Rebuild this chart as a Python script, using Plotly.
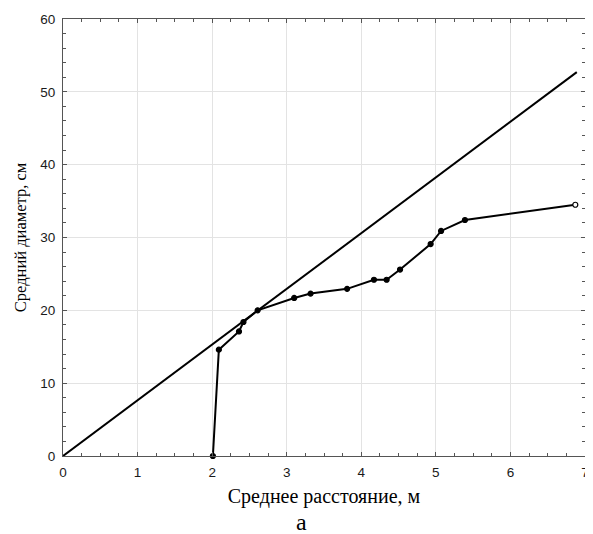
import plotly.graph_objects as go

# Data
dist_m = [2.01, 2.09, 2.36, 2.42, 2.61, 3.10, 3.32, 3.81, 4.17, 4.34, 4.52, 4.93, 5.07, 5.39, 6.87]
diam_cm = [0.0, 14.6, 17.1, 18.4, 20.0, 21.7, 22.3, 22.95, 24.2, 24.2, 25.6, 29.1, 30.9, 32.4, 34.5]
line_x = [0.0, 6.89]
line_y = [0.0, 52.7]

x_ticks = [0, 1, 2, 3, 4, 5, 6, 7]
y_ticks = [0, 10, 20, 30, 40, 50, 60]

fig = go.Figure()
fig.add_trace(go.Scatter(x=line_x, y=line_y, mode="lines",
                         line=dict(color="black", width=2), showlegend=False))
marker_fill = ["black"] * (len(dist_m) - 1) + ["white"]
fig.add_trace(go.Scatter(x=dist_m, y=diam_cm, mode="lines+markers",
                         line=dict(color="black", width=2),
                         marker=dict(size=5, color=marker_fill,
                                     line=dict(color="black", width=1.2)),
                         showlegend=False, cliponaxis=False))

axis_common = dict(
    showline=True, linecolor="#555555", linewidth=1, mirror="ticks",
    ticks="inside", ticklen=4, tickcolor="#555555",
    showgrid=True, gridcolor="#e3e3e3", gridwidth=1, zeroline=False,
    tickfont=dict(family="Liberation Sans, Arial", size=13.5, color="#1a1a1a"),
)

fig.update_xaxes(range=[0, 7], tickvals=x_ticks, ticktext=[str(v) for v in x_ticks],
                 minor=dict(dtick=0.25, ticks="inside", ticklen=3, tickcolor="#555555", showgrid=False),
                 ticklabelstandoff=4,
                 title=dict(text="Среднее расстояние, м",
                            font=dict(family="Liberation Serif, Times New Roman", size=20, color="black"),
                            standoff=9),
                 **axis_common)
fig.update_yaxes(range=[0, 60], tickvals=y_ticks, ticktext=[str(v) for v in y_ticks],
                 minor=dict(dtick=2, ticks="inside", ticklen=3, tickcolor="#555555", showgrid=False),
                 ticklabelstandoff=4,
                 title=dict(text="Средний диаметр, см",
                            font=dict(family="Liberation Serif, Times New Roman", size=16.5, color="black"),
                            standoff=9),
                 **axis_common)

fig.add_annotation(text="а", xref="paper", yref="paper", x=0.456, y=-0.152,
                   showarrow=False, yanchor="middle",
                   font=dict(family="Liberation Serif, Times New Roman", size=24, color="black"))

fig.update_layout(width=585, height=526, plot_bgcolor="white", paper_bgcolor="white",
                  margin=dict(l=55, r=4, t=11, b=78))

fig.write_html("out.html")
